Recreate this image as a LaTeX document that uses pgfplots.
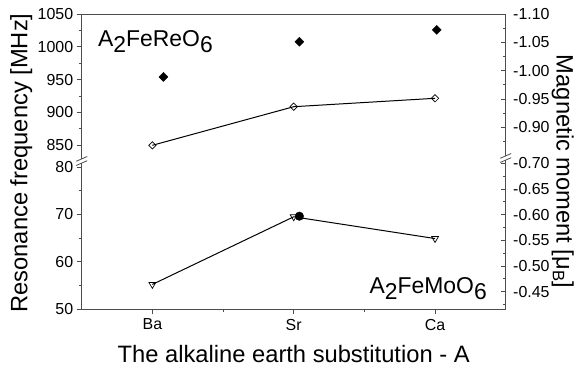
\documentclass[border=0pt]{standalone}
\usepackage{fontspec}
\setmainfont{Liberation Sans}
\usepackage{pgfplots}
\pgfplotsset{compat=1.18}
\newcommand{\sub}[1]{\raisebox{-0.27em}{#1}}
\begin{document}
\begin{tikzpicture}
\useasboundingbox (-81.7bp,-60bp) rectangle (497.3bp,309bp);
\pgfplotsset{
  every axis/.append style={
    scale only axis, width=424bp, xmin=-0.5, xmax=2.5, clip=false,
    axis line style={-, black!70, line width=0.8pt},
    x axis line style={-}, y axis line style={-},
    tick style={black!70, line width=0.8pt},
    major tick length=5bp, minor tick length=3bp,
    tick label style={font=\fontsize{16}{16}\selectfont, black},
  },
}
% bottom left
\begin{axis}[at={(0bp,0bp)}, anchor=south west, height=148bp,
  axis x line*=bottom, axis y line*=left, tick align=outside,
  xtick={0,1,2}, xticklabels={Ba,Sr,Ca}, minor xtick={0.5,1.5},
  xticklabel style={yshift=-1.5bp},
  ymin=50, ymax=81.3, ytick={50,60,70,80}, yticklabels={50,60,70,80},
  minor ytick={55,65,75}]
\addplot[black, line width=1pt, mark=triangle, mark size=4,
  mark options={rotate=180, fill=white, solid, line width=0.7pt}]
  coordinates {(0,55.2) (1,69.5) (2,64.9)};
\end{axis}
% bottom right
\begin{axis}[at={(0bp,0bp)}, anchor=south west, height=148bp,
  axis x line=none, xtick=\empty, axis y line*=right, y dir=reverse,
  tick align=inside, yticklabel style={xshift=4bp},
  ymin=-0.7045, ymax=-0.4163,
  ytick={-0.70,-0.65,-0.60,-0.55,-0.50,-0.45},
  yticklabels={-0.70,-0.65,-0.60,-0.55,-0.50,-0.45},
  minor ytick={-0.675,-0.625,-0.575,-0.525,-0.475,-0.425}]
\addplot[only marks, mark=*, mark size=4.3, black] coordinates {(1.04,-0.597)};
\end{axis}
% top left
\begin{axis}[at={(0bp,148bp)}, anchor=south west, height=147bp,
  axis x line*=top, xtick=\empty, axis y line*=left, tick align=outside,
  ymin=826.1, ymax=1050, ytick={850,900,950,1000,1050},
  yticklabels={850,900,950,1000,1050},
  minor ytick={875,925,975,1025}]
\addplot[black, line width=1pt, mark=square, mark size=2.6,
  mark options={rotate=45, fill=white, solid, line width=0.7pt}]
  coordinates {(0,850) (1,908.8) (2,921.6)};
\node[anchor=base west, inner sep=0pt, font=\fontsize{23}{23}\selectfont]
  at (axis cs:-0.385,1000.2) {A\sub{2}FeReO\sub{6}};
\end{axis}
% top right
\begin{axis}[at={(0bp,148bp)}, anchor=south west, height=147bp,
  axis x line=none, xtick=\empty, axis y line*=right, y dir=reverse,
  tick align=inside, yticklabel style={xshift=4bp},
  ymin=-1.10, ymax=-0.8406,
  ytick={-1.10,-1.05,-1.00,-0.95,-0.90},
  yticklabels={-1.10,-1.05,-1.00,-0.95,-0.90},
  minor ytick={-1.075,-1.025,-0.975,-0.925,-0.875}]
\addplot[only marks, mark=square*, mark size=3.2, mark options={rotate=45}, black]
  coordinates {(0.078,-0.989) (1.04,-1.051) (2.012,-1.072)};
\end{axis}
% text in bottom panel
\node[anchor=base east, inner sep=0pt, font=\fontsize{23}{23}\selectfont]
  at (405.3bp,16bp) {A\sub{2}FeMoO\sub{6}};
% axis labels
\node[anchor=base, inner sep=0pt, font=\fontsize{23.8}{24}\selectfont]
  at (212bp,-53.7bp) {The alkaline earth substitution - A};
\node[anchor=base, inner sep=0pt, rotate=90, font=\fontsize{23.8}{24}\selectfont]
  at (-54.4bp,146bp) {Resonance frequency [MHz]};
\node[anchor=base, inner sep=0pt, rotate=-90, font=\fontsize{23.8}{24}\selectfont]
  at (475bp,137.3bp) {Magnetic moment [μ\textsubscript{B}]};
% axis breaks
\foreach \cx/\cy in {0/148, 424/151}{
  \fill[white] (\cx bp-1.6bp,\cy bp-2.2bp) rectangle (\cx bp+1.6bp,\cy bp+2.2bp);
  \draw[black!70, line width=0.8pt] (\cx bp-5.5bp,\cy bp-4.5bp) -- (\cx bp+5.5bp,\cy bp+0.3bp);
  \draw[black!70, line width=0.8pt] (\cx bp-5.5bp,\cy bp-0.3bp) -- (\cx bp+5.5bp,\cy bp+4.5bp);
}
\end{tikzpicture}
\end{document}
